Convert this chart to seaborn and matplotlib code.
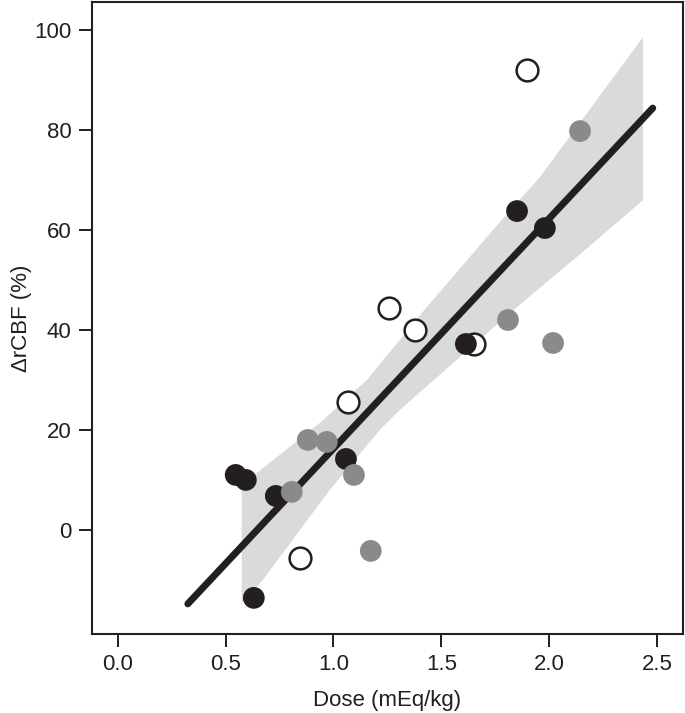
"""Dose vs change in rCBF scatter with fitted line and confidence band."""
import numpy as np
import pandas as pd
import seaborn as sns
import matplotlib.pyplot as plt

# points
open_dose = [1.897, 1.257, 1.378, 1.067, 1.651, 0.844]
open_cbf = [92.0, 44.4, 40.0, 25.6, 37.2, -5.6]
black_dose = [1.851, 1.980, 1.614, 1.058, 0.547, 0.594, 0.733, 0.631]
black_cbf = [63.8, 60.4, 37.2, 14.2, 11.0, 10.0, 6.8, -13.6]
gray_dose = [2.143, 1.809, 2.018, 0.881, 0.969, 1.095, 0.807, 1.173]
gray_cbf = [79.8, 42.0, 37.4, 18.0, 17.6, 11.0, 7.6, -4.2]

# fitted line end points and confidence band edges
fit_dose = [0.325, 2.48]
fit_cbf = [-14.8, 84.4]
band_upper_dose = [0.575, 0.937, 1.155, 1.433, 1.739, 1.957, 2.435]
band_upper_cbf = [9.0, 21.4, 30.0, 44.6, 60.0, 70.6, 98.6]
band_lower_dose = [0.575, 0.673, 0.983, 1.215, 1.308, 1.818, 2.166, 2.435]
band_lower_cbf = [-14.6, -10.0, 8.0, 20.0, 24.0, 43.4, 56.0, 66.0]

x_ticks = [0.0, 0.5, 1.0, 1.5, 2.0, 2.5]
y_ticks = [0, 20, 40, 60, 80, 100]

INK = "#231f20"

sns.set_style("ticks")
plt.rcParams["font.family"] = ["Liberation Sans", "DejaVu Sans"]

fig = plt.figure(figsize=(6.85, 7.13), dpi=100)
ax = fig.add_axes([0.134, 0.111, 0.863, 0.886])

poly_x = np.concatenate([band_upper_dose, band_lower_dose[::-1]])
poly_y = np.concatenate([band_upper_cbf, band_lower_cbf[::-1]])
ax.fill(poly_x, poly_y, color="#d9dadb", lw=0, zorder=1)

fit = pd.DataFrame({"dose": fit_dose, "cbf": fit_cbf})
sns.lineplot(data=fit, x="dose", y="cbf", color=INK, lw=5, ax=ax, zorder=2)

pts = dict(s=245, zorder=3)
sns.scatterplot(x=open_dose, y=open_cbf, color="white", edgecolor=INK, linewidth=1.8, ax=ax, **pts)
sns.scatterplot(x=black_dose, y=black_cbf, color=INK, edgecolor="none", ax=ax, **pts)
sns.scatterplot(x=gray_dose, y=gray_cbf, color="#8a8a8a", edgecolor="none", ax=ax, **pts)

ax.set_xlim(-0.12, 2.62)
ax.set_ylim(-20.8, 105.6)
ax.set_xticks(x_ticks)
ax.set_xticklabels([f"{v:.1f}" for v in x_ticks])
ax.set_yticks(y_ticks)
ax.set_yticklabels([str(v) for v in y_ticks])
ax.tick_params(direction="out", length=9.5, width=1.4, pad=5, labelsize=16, color=INK, labelcolor=INK)
for side in ["left", "right", "top", "bottom"]:
    ax.spines[side].set_visible(True)
    ax.spines[side].set_linewidth(1.5)
    ax.spines[side].set_color(INK)

ax.set_xlabel("Dose (mEq/kg)", fontsize=16, color=INK, labelpad=11)
ax.set_ylabel("\u0394rCBF (%)", fontsize=16, color=INK, labelpad=2)

fig.savefig("out.png", dpi=100)
plt.close(fig)
